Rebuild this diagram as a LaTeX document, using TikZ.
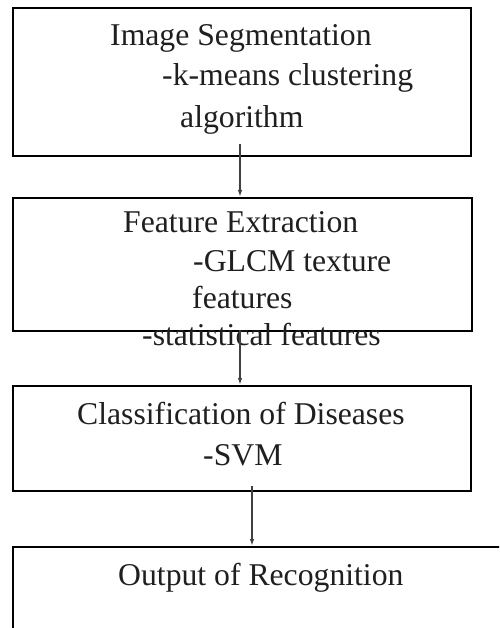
\documentclass[tikz,border=0pt]{standalone}
\usepackage{fontspec}
\setmainfont{Liberation Serif}
\usetikzlibrary{arrows.meta}
\begin{document}
\begin{tikzpicture}[x=1pt,y=-1pt,
  box/.style={draw=black,line width=1.8pt,anchor=north west,inner sep=0pt},
  txt/.style={anchor=base west,inner sep=0pt,font=\fontsize{31.7}{38}\selectfont,text=black!88},
  conn/.style={draw=black!75,line width=1.4pt,-{Latex[length=7pt,width=4.5pt]}}]
\useasboundingbox (0,0) rectangle (499,628);
\clip (0,0) rectangle (499,628);
% boxes
\node[box,minimum width=458pt,minimum height=148pt] (b1) at (12,7) {};
\node[box,minimum width=459pt,minimum height=133pt] (b2) at (12,197) {};
\node[box,minimum width=458pt,minimum height=105pt] (b3) at (12,385) {};
\node[box,minimum width=520pt,minimum height=110pt] (b4) at (12,546) {};
% texts
\node[txt] (t1a) at (110,46) {Image Segmentation};
\node[txt] (t1b) at (162,86) {-k-means clustering};
\node[txt] (t1c) at (180,128) {algorithm};
\node[txt] (t2a) at (123,232) {Feature Extraction};
\node[txt] (t2b) at (193,271) {-GLCM texture};
\node[txt] (t2c) at (192,308) {features};
\node[txt] (t2d) at (142,345) {-statistical features};
\node[txt] (t3a) at (77,424) {Classification of Diseases};
\node[txt] (t3b) at (203,465) {-SVM};
\node[txt] (t4a) at (118,585) {Output of Recognition};
% connectors
\coordinate (s1) at (240,144);
\coordinate (s2) at (240,330);
\coordinate (s3) at (252,486);
\draw[conn] (s1) -- (s1 |- b2.north);
\draw[conn] (s2) -- (s2 |- b3.north);
\draw[conn] (s3) -- (s3 |- b4.north);
\end{tikzpicture}
\end{document}
